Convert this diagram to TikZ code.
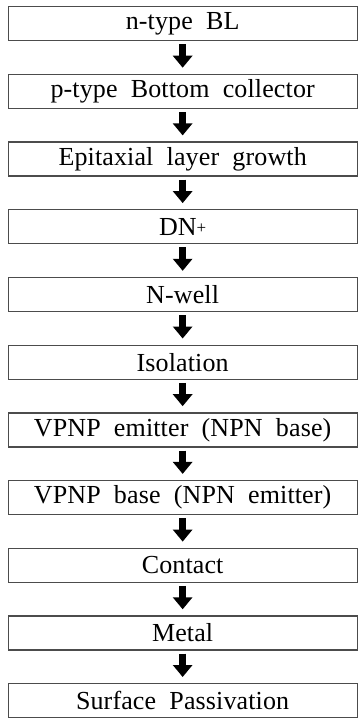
\documentclass[tikz,border=0pt]{standalone}
\usepackage{fontspec}
\setmainfont{Liberation Serif}
\usetikzlibrary{arrows.meta}
\begin{document}
\begin{tikzpicture}[x=1pt,y=-1pt,
  stepbox/.style={draw=black!70, line width=1.3pt, minimum width=349pt,
    minimum height=34pt, inner sep=0pt,
    font=\fontsize{26}{28}\selectfont\addfontfeature{LetterSpace=0.5},
    anchor=north west},
  flow/.style={line width=6.5pt, draw=black,
    -{Triangle[width=19pt,length=12pt]}, shorten <=3pt, shorten >=6pt}]
\useasboundingbox (0,0) rectangle (357,724);
\foreach \t [count=\i from 0] in {
  n-type\ \ BL,
  p-type\ \ Bottom\ \ collector,
  Epitaxial\ \ layer\ \ growth,
  DN{\fontsize{17}{17}\selectfont\raisebox{0.2ex}{+}},
  N-well,
  Isolation,
  VPNP\ \ emitter\ \ (NPN\ \ base),
  VPNP\ \ base\ \ (NPN\ \ emitter),
  Contact,
  Metal,
  Surface\ \ Passivation}
  \node[stepbox] (b\i) at (7.5,{6+67.7*\i}) {\t};
\foreach \i [evaluate=\i as \j using int(\i+1)] in {0,...,9}
  \draw[flow] (b\i.south) -- (b\j.north);
\end{tikzpicture}
\end{document}
